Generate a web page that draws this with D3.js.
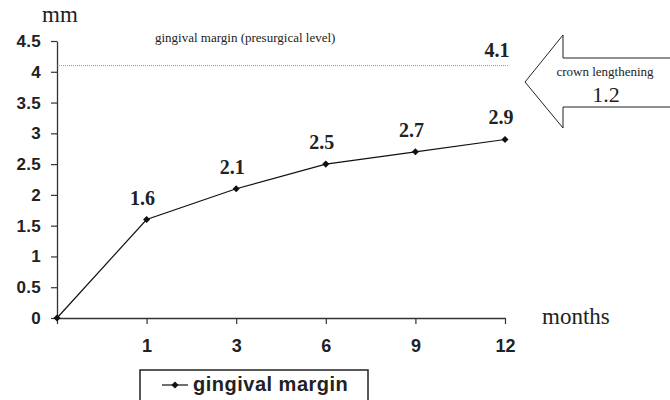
<!DOCTYPE html>
<html>
<head>
<meta charset="utf-8">
<script src="https://cdn.jsdelivr.net/npm/d3@7"></script>
<style>
body { margin: 0; background: #fff; }
</style>
</head>
<body>
<div id="chart"></div>
<script>
// months after surgery (0 = surgery, not labelled)
var months = [0, 1, 3, 6, 9, 12];
var margin = [0, 1.6, 2.1, 2.5, 2.7, 2.9];
var yTicks = [0, 0.5, 1, 1.5, 2, 2.5, 3, 3.5, 4, 4.5];
var presurgical = 4.1;
var lengthening = 1.2;

var W = 670, H = 400;

let svg = d3.select("#chart").append("svg")
    .attr("width", W)
    .attr("height", H);

let x = d3.scalePoint()
    .domain(months)
    .range([57, 505]);

let y = d3.scaleLinear()
    .domain([0, 4.5])
    .range([318, 41]);

let sans = "'Liberation Sans', Arial, sans-serif";
let serif = "'Liberation Serif', 'Times New Roman', serif";

// y axis
let yAxis = d3.axisLeft(y)
    .tickValues(yTicks)
    .tickSize(6)
    .tickSizeOuter(0)
    .tickFormat(d => d);
let yg = svg.append("g")
    .attr("transform", "translate(" + x(0) + ",0)")
    .call(yAxis);
yg.select(".domain").attr("stroke", "#333").attr("stroke-width", 1.3);
yg.selectAll(".tick line").attr("stroke", "#333").attr("stroke-width", 1.2);
yg.selectAll(".tick text")
    .attr("x", -16)
    .attr("font-family", sans)
    .attr("font-weight", "bold")
    .attr("font-size", 17)
    .attr("letter-spacing", 0.3)
    .attr("fill", "#222");

// x axis
let xAxis = d3.axisBottom(x)
    .tickSize(6)
    .tickSizeOuter(0)
    .tickFormat(d => d == 0 ? "" : d);
let xg = svg.append("g")
    .attr("transform", "translate(0," + y(0) + ")")
    .call(xAxis);
xg.select(".domain").attr("stroke", "#333").attr("stroke-width", 1.3);
xg.selectAll(".tick line").attr("stroke", "#333").attr("stroke-width", 1.2);
xg.selectAll(".tick text")
    .attr("y", 21)
    .attr("font-family", sans)
    .attr("font-weight", "bold")
    .attr("font-size", 18)
    .attr("fill", "#222");

// axis titles
svg.append("text")
    .attr("x", 42)
    .attr("y", 22)
    .attr("font-family", serif)
    .attr("font-size", 23)
    .attr("fill", "#222")
    .text("mm");

svg.append("text")
    .attr("x", 542)
    .attr("y", 324)
    .attr("font-family", serif)
    .attr("font-size", 23)
    .attr("fill", "#222")
    .text("months");

// presurgical level
svg.append("line")
    .attr("x1", x(0))
    .attr("x2", 509)
    .attr("y1", y(presurgical))
    .attr("y2", y(presurgical))
    .attr("stroke", "#777")
    .attr("stroke-width", 0.8)
    .attr("stroke-dasharray", "1,1");

svg.append("text")
    .attr("x", 155)
    .attr("y", 42)
    .attr("font-family", serif)
    .attr("font-size", 13)
    .attr("fill", "#222")
    .text("gingival margin (presurgical level)");

svg.append("text")
    .attr("x", 497)
    .attr("y", y(presurgical) - 9)
    .attr("text-anchor", "middle")
    .attr("font-family", serif)
    .attr("font-weight", "bold")
    .attr("font-size", 20)
    .attr("fill", "#222")
    .text(presurgical);

// crown lengthening arrow
let arrow = [[525, 82], [563, 35], [563, 58], [672, 58], [672, 107], [563, 107], [563, 128]];
svg.append("path")
    .attr("d", d3.line()(arrow) + "Z")
    .attr("fill", "#fff")
    .attr("stroke", "#222")
    .attr("stroke-width", 1);

svg.append("text")
    .attr("x", 605)
    .attr("y", 76)
    .attr("text-anchor", "middle")
    .attr("font-family", serif)
    .attr("font-size", 13)
    .attr("fill", "#222")
    .text("crown lengthening");

svg.append("text")
    .attr("x", 606)
    .attr("y", 102)
    .attr("text-anchor", "middle")
    .attr("font-family", serif)
    .attr("font-size", 22)
    .attr("fill", "#222")
    .text(lengthening);

// series
let pts = months.map((m, i) => ({ m: m, v: margin[i] }));

svg.append("path")
    .datum(pts)
    .attr("d", d3.line().x(d => x(d.m)).y(d => y(d.v)))
    .attr("fill", "none")
    .attr("stroke", "#111")
    .attr("stroke-width", 1.2);

let diamond = d3.symbol().type(d3.symbolDiamond2).size(32);
svg.selectAll(".pt")
    .data(pts)
    .enter()
    .append("path")
    .attr("class", "pt")
    .attr("transform", d => "translate(" + x(d.m) + "," + y(d.v) + ")")
    .attr("d", diamond)
    .attr("fill", "#111");

svg.selectAll(".lab")
    .data(pts.filter(d => d.m != 0))
    .enter()
    .append("text")
    .attr("class", "lab")
    .attr("x", d => x(d.m) - 4)
    .attr("y", d => y(d.v) - 15)
    .attr("text-anchor", "middle")
    .attr("font-family", serif)
    .attr("font-weight", "bold")
    .attr("font-size", 20)
    .attr("fill", "#222")
    .text(d => d.v.toFixed(1));

// legend
let lg = svg.append("g").attr("transform", "translate(140,370)");
lg.append("rect")
    .attr("x", 0)
    .attr("y", 0)
    .attr("width", 228)
    .attr("height", 40)
    .attr("fill", "#fff")
    .attr("stroke", "#222")
    .attr("stroke-width", 1.5);
lg.append("line")
    .attr("x1", 22)
    .attr("x2", 48)
    .attr("y1", 15)
    .attr("y2", 15)
    .attr("stroke", "#111")
    .attr("stroke-width", 1.2);
lg.append("path")
    .attr("transform", "translate(35,15)")
    .attr("d", diamond)
    .attr("fill", "#111");
lg.append("text")
    .attr("x", 53)
    .attr("y", 21)
    .attr("font-family", sans)
    .attr("font-weight", "bold")
    .attr("font-size", 20)
    .attr("letter-spacing", 0.5)
    .attr("fill", "#222")
    .text("gingival margin");
</script>
</body>
</html>
